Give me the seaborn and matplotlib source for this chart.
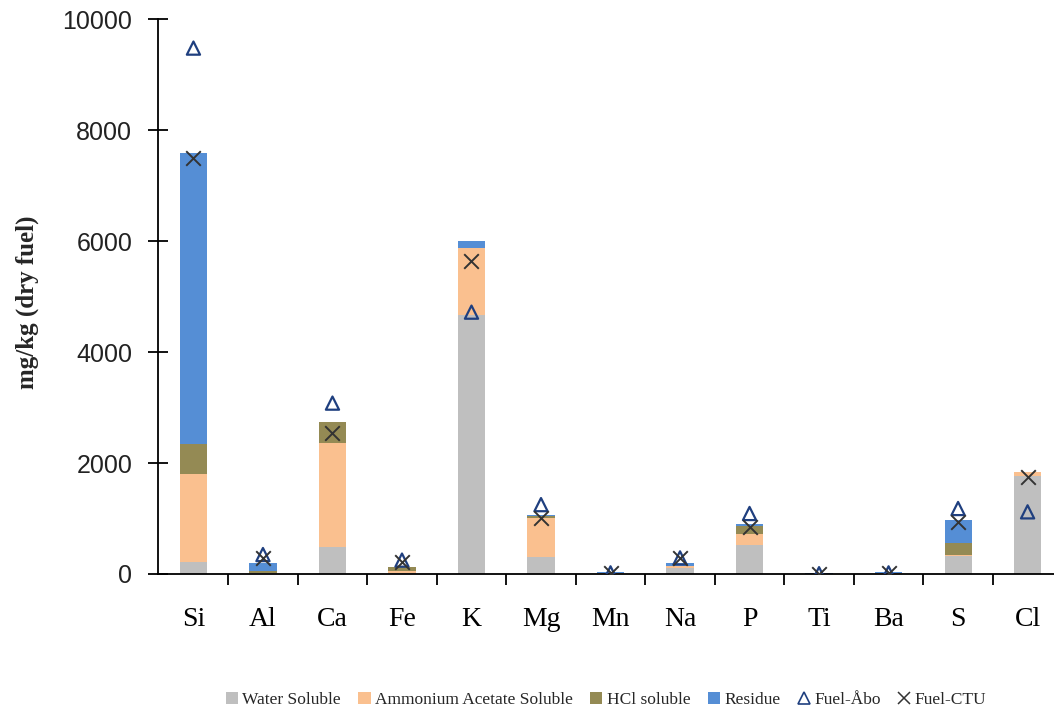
import numpy as np
import pandas as pd
import matplotlib
matplotlib.use("Agg")
import matplotlib.pyplot as plt
from matplotlib.lines import Line2D
from matplotlib.patches import Patch
import seaborn as sns

elements = ["Si", "Al", "Ca", "Fe", "K", "Mg", "Mn", "Na", "P", "Ti", "Ba", "S", "Cl"]
water_soluble = [215, 10, 490, 20, 4670, 310, 5, 110, 520, 2, 5, 320, 1770]
ammonium_acetate = [1585, 10, 1870, 30, 1200, 700, 5, 30, 200, 2, 5, 30, 60]
hcl_soluble = [540, 40, 380, 80, 0, 35, 5, 0, 140, 2, 5, 210, 0]
residue = [5245, 140, 0, 0, 130, 25, 15, 60, 40, 4, 15, 410, 0]
fuel_abo = [9480, 350, 3080, 250, 4720, 1250, 20, 290, 1090, 5, 20, 1180, 1120]
fuel_ctu = [7500, 280, 2540, 220, 5640, 1010, 15, 280, 850, 5, 15, 940, 1750]

layer_names = ["Water Soluble", "Ammonium Acetate Soluble", "HCl soluble", "Residue"]
layer_values = [water_soluble, ammonium_acetate, hcl_soluble, residue]
layer_colors = ["#bfbfbf", "#fac08f", "#948a54", "#558ed5"]

sns.set_theme(style="white")
plt.rcParams["font.family"] = ["Liberation Serif", "DejaVu Serif"]

fig = plt.figure(figsize=(10.54, 7.13), dpi=100)
ax = fig.add_axes([0.1499, 0.195, 0.8501, 0.778])

# Stacked bars: draw cumulative totals from the top layer down
cum = np.cumsum(np.array(layer_values, dtype=float), axis=0)
for i in range(len(layer_names) - 1, -1, -1):
    df = pd.DataFrame({"element": elements, "value": cum[i]})
    sns.barplot(data=df, x="element", y="value", order=elements, color=layer_colors[i],
                width=0.39, saturation=1, edgecolor="none", linewidth=0, ax=ax)

pts = pd.DataFrame({"element": elements, "abo": fuel_abo, "ctu": fuel_ctu})
sns.scatterplot(data=pts, x="element", y="abo", marker="^", s=90, facecolor="none",
                edgecolor="#1f3f7f", linewidth=1.6, ax=ax, zorder=5)
sns.scatterplot(data=pts, x="element", y="ctu", marker="x", s=110, color="#333333",
                linewidth=1.4, ax=ax, zorder=6)

ax.set_ylim(0, 10000)
ax.set_xlim(-0.51, 12.38)
ax.set_yticks(np.arange(0, 10001, 2000))
ax.set_xlabel("")
ax.set_ylabel("mg/kg (dry fuel)", fontsize=18, fontweight="bold")
ax.yaxis.set_label_coords(-0.133, 0.49)

for side in ["top", "right"]:
    ax.spines[side].set_visible(False)
for side in ["left", "bottom"]:
    ax.spines[side].set_color("black")
    ax.spines[side].set_linewidth(1.3)

ax.tick_params(axis="y", which="major", direction="inout", length=15, width=1.3,
               pad=11, labelsize=18, left=True, colors="black")
for lbl in ax.get_yticklabels():
    lbl.set_family(["Liberation Sans", "DejaVu Sans"])
    lbl.set_color("#222222")
ax.tick_params(axis="x", which="major", length=0, labelsize=20, pad=24, colors="black")
ax.set_xticks(np.arange(0.5, len(elements) - 1, 1), minor=True)
ax.tick_params(axis="x", which="minor", direction="out", length=8, width=1.3,
               bottom=True, colors="black")

handles = [Patch(facecolor=c, edgecolor="none") for c in layer_colors]
handles.append(Line2D([], [], marker="^", linestyle="none", markerfacecolor="none",
                      markeredgecolor="#1f3f7f", markersize=8, markeredgewidth=1.2))
handles.append(Line2D([], [], marker="x", linestyle="none", color="#333333",
                      markersize=8, markeredgewidth=1.1))
labels = layer_names + ["Fuel-Åbo", "Fuel-CTU"]
fig.legend(handles, labels, loc="center", bbox_to_anchor=(0.575, 0.018), ncol=6,
           frameon=False, fontsize=12.5, handlelength=0.7, handleheight=0.7,
           handletextpad=0.25, columnspacing=1.0)

fig.savefig("out.png", dpi=100)
